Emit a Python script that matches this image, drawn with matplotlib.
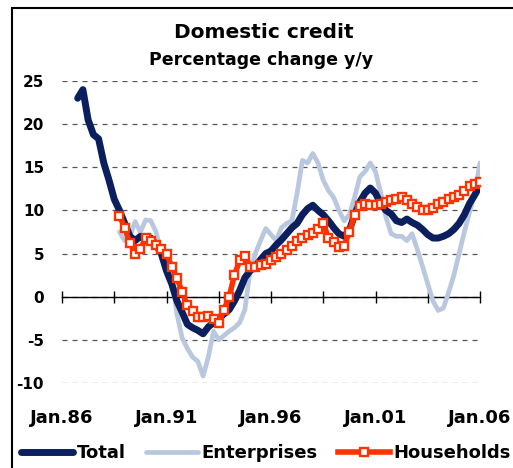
import matplotlib; matplotlib.use("Agg")
import matplotlib.pyplot as plt
import matplotlib.patches as patches
import numpy as np
import pandas as pd

plt.rcParams["font.family"] = "DejaVu Sans"
plt.rcParams["font.weight"] = "bold"

# quarterly observations, Q4 1986 .. Q1 2006
quarters = pd.period_range("1986Q4", "2006Q1", freq="Q")
years = np.asarray(quarters.year + (quarters.quarter - 1) / 4, dtype=float)

nan = np.nan
total = [
    23.0,
    24.0, 20.5, 18.8, 18.3,
    15.5, 13.5, 11.3, 10.0,
    8.5, 7.0, 6.5, 7.0,
    6.5, 6.8, 6.0, 5.0,
    3.0, 1.5, -0.5, -1.8,
    -3.2, -3.6, -3.9, -4.3,
    -3.5, -3.0, -2.5, -2.0,
    -1.5, -0.5, 0.7, 2.2,
    3.0, 3.5, 4.3, 5.0,
    5.3, 6.0, 6.6, 7.3,
    8.0, 8.5, 9.5, 10.2,
    10.6, 10.0, 9.5, 8.8,
    8.0, 7.3, 7.0, 7.7,
    9.5, 11.0, 12.0, 12.6,
    12.0, 10.8, 10.0, 9.6,
    8.8, 8.6, 9.0, 8.6,
    8.3, 7.8, 7.2, 6.8,
    6.8, 7.0, 7.3, 7.8,
    8.5, 9.5, 10.8, 11.8,
    12.9,
]
enterprises = [
    nan,
    nan, nan, nan, nan,
    nan, nan, nan, 7.5,
    6.5, 7.0, 8.7, 7.5,
    8.9, 8.8, 7.5, 5.0,
    4.2, 2.5, -2.0, -4.8,
    -6.0, -7.0, -7.5, -9.2,
    -7.0, -4.0, -5.0, -4.5,
    -4.0, -3.6, -3.0, -1.5,
    3.0, 5.0, 6.5, 7.9,
    7.2, 6.5, 8.0, 8.5,
    8.8, 12.0, 15.8, 15.5,
    16.6, 15.5, 13.5, 12.3,
    11.5, 10.0, 8.8, 9.5,
    11.5, 13.9, 14.5, 15.5,
    14.5, 12.0, 9.2, 7.3,
    7.0, 7.0, 6.5, 7.3,
    5.5, 3.5, 1.5, -0.5,
    -1.6, -1.3, 0.5, 2.5,
    5.0, 7.5, 9.8, 12.0,
    15.5,
]
households = [
    nan,
    nan, nan, nan, nan,
    nan, nan, nan, 9.4,
    8.0, 6.2, 5.0, 5.5,
    6.8, 6.5, 6.0, 5.5,
    5.0, 3.5, 2.2, 0.5,
    -1.0, -1.6, -2.4, -2.4,
    -2.2, -2.6, -3.0, -1.5,
    0.0, 2.5, 4.2, 4.7,
    3.5, 3.4, 3.7, 3.8,
    4.2, 4.6, 5.0, 5.4,
    5.9, 6.4, 6.8, 7.1,
    7.4, 7.8, 8.5, 6.8,
    6.3, 5.8, 5.9, 7.5,
    9.5, 10.5, 10.8, 10.6,
    10.6, 10.8, 11.0, 11.2,
    11.3, 11.5, 11.2, 10.8,
    10.4, 10.1, 10.0, 10.3,
    10.7, 11.0, 11.3, 11.5,
    11.8, 12.3, 12.8, 13.1,
    13.3,
]
assert len(total) == len(enterprises) == len(households) == len(years)

label_years = [1986, 1991, 1996, 2001, 2006]
label_text = ["Jan.86", "Jan.91", "Jan.96", "Jan.01", "Jan.06"]
minor_years = [1986, 1988.5, 1991, 1993.5, 1996, 1998.5, 2001, 2003.5, 2006]
y_ticks = [-10, -5, 0, 5, 10, 15, 20, 25]

navy = "#0b1f5e"
light = "#b9c8de"
orange = "#ff3300"

fig = plt.figure(figsize=(5.13, 4.68), dpi=100)
ax = fig.add_axes([62 / 513, 1 - 383 / 468, 418 / 513, 302 / 468])

ax.plot(years, total, color=navy, lw=5, solid_capstyle="round", zorder=3, label="Total")
ax.plot(years, enterprises, color=light, lw=3.4, solid_capstyle="round", zorder=2, label="Enterprises")
ax.plot(years, households, color=orange, lw=4, marker="s", markersize=6,
        markerfacecolor="white", markeredgecolor=orange, markeredgewidth=1.7,
        zorder=4, label="Households")

ax.set_xlim(1986, 2006)
ax.set_ylim(-10, 25)
ax.set_yticks(y_ticks)
ax.set_yticklabels([str(v) for v in y_ticks], fontsize=11, fontweight="bold")
ax.tick_params(axis="y", length=0, pad=13)
ax.yaxis.grid(True, color="#555555", lw=0.9, linestyle=(0, (4, 4)))
ax.set_axisbelow(True)

for s in ["top", "right", "left"]:
    ax.spines[s].set_visible(False)
ax.spines["bottom"].set_position(("data", 0))
ax.spines["bottom"].set_color("black")
ax.spines["bottom"].set_linewidth(1)
ax.spines["bottom"].set_zorder(1)
ax.set_xticks(minor_years)
ax.tick_params(axis="x", direction="inout", length=9, width=1, labelbottom=False)

sec = ax.secondary_xaxis(0)
sec.set_xticks(label_years)
sec.set_xticklabels(label_text, fontsize=13, fontweight="bold")
sec.tick_params(length=0, pad=19)
sec.spines["bottom"].set_visible(False)

fig.text(264 / 513, 1 - 33 / 468, "Domestic credit", ha="center", va="center",
         fontsize=14.5, fontweight="bold")
fig.text(261 / 513, 1 - 60 / 468, "Percentage change y/y", ha="center", va="center",
         fontsize=12.5, fontweight="bold")

handles, labels = ax.get_legend_handles_labels()
fig.legend(handles, labels, loc="center left", bbox_to_anchor=(21 / 513, 1 - 453 / 468),
           ncol=3, frameon=False, handlelength=2.9, handletextpad=0.2,
           columnspacing=1.1, borderpad=0, borderaxespad=0,
           prop={"size": 13, "weight": "bold"})

frame = patches.Rectangle((12 / 513, -0.2), 1.2, 1.2 - 8 / 468, transform=fig.transFigure,
                          fill=False, edgecolor="black", lw=1.5, clip_on=False)
fig.add_artist(frame)

plt.savefig("out.png", dpi=100)
